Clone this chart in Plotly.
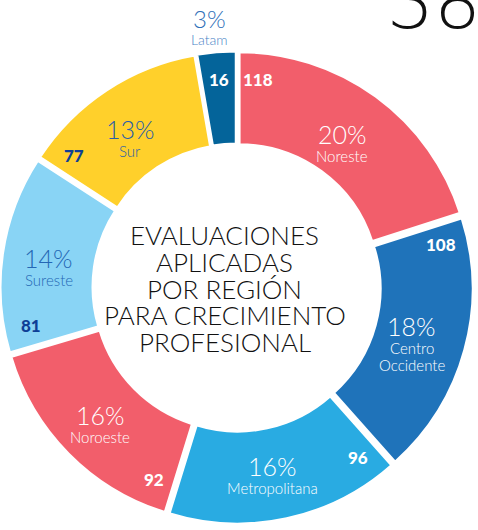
import math
import plotly.graph_objects as go

regions = ["Noreste", "Centro Occidente", "Metropolitana", "Noroeste", "Sureste", "Sur", "Latam"]
name_lines = [["Noreste"], ["Centro", "Occidente"], ["Metropolitana"], ["Noroeste"], ["Sureste"], ["Sur"], ["Latam"]]
counts = [118, 108, 96, 92, 81, 77, 16]
pct_labels = ["20%", "18%", "16%", "16%", "14%", "13%", "3%"]
colors = ["#F25E6B", "#1F73BA", "#29ABE2", "#F25E6B", "#89D4F5", "#FFD02B", "#04649A"]
pct_colors = ["#FFFFFF", "#FFFFFF", "#FFFFFF", "#FFFFFF", "#2467B4", "#2A5EA8", "#2F6FB8"]
name_colors = ["#FFFFFF", "#FFFFFF", "#FFFFFF", "#FFFFFF", "#2467B4", "#2A5EA8", "#4A84C6"]
num_colors = ["#FFFFFF", "#FFFFFF", "#FFFFFF", "#FFFFFF", "#0E3F96", "#0E3F96", "#FFFFFF"]
center_title = ["EVALUACIONES", "APLICADAS", "POR REGIÓN", "PARA CRECIMIENTO", "PROFESIONAL"]
page_number = "38"

W, H = 478, 530
PULL = 0.018
dom_x = [0.0, 0.99]
dom_y = [0.01, 0.905]
cx = (dom_x[0] + dom_x[1]) / 2 * W
cy_top = H - (dom_y[0] + dom_y[1]) / 2 * H  # pixel from top
R = min((dom_x[1] - dom_x[0]) * W, (dom_y[1] - dom_y[0]) * H) / 2 / (1 + PULL)

fig = go.Figure(go.Pie(
    labels=regions, values=counts, sort=False, direction="clockwise", rotation=0,
    hole=0.6, pull=PULL, textinfo="none", hoverinfo="label+value+percent",
    marker=dict(colors=colors, line=dict(color="white", width=3)),
    domain=dict(x=dom_x, y=dom_y), showlegend=False,
))

LIGHT = "Lato"
ann = []
lcx, lcy = cx - 4, cy_top + 7  # label ring centre (hole centre sits slightly left/low)


def to_paper(r, theta_deg, ccx, ccy):
    t = math.radians(theta_deg)
    px = ccx + r * math.sin(t)
    py = ccy - r * math.cos(t)
    return px / W, 1 - py / H


def add_text(x, y, text, size, color, weight, yshift=0, family=LIGHT):
    ann.append(dict(x=x, y=y, xref="paper", yref="paper", showarrow=False, text=text,
                    xanchor="center", yanchor="middle", yshift=yshift,
                    font=dict(family=family, size=size, color=color, weight=weight)))


total = sum(counts)
cum = 0
for i, v in enumerate(counts):
    span = v / total * 360
    start = cum / total * 360
    mid = start + span / 2
    cum += v
    if regions[i] == "Latam":
        x, y = to_paper(R * 1.15, mid, lcx, lcy)
        add_text(x, y, pct_labels[i], 24, pct_colors[i], 300, yshift=10)
        add_text(x, y, name_lines[i][0], 14, name_colors[i], 300, yshift=-11)
        nang = mid
    else:
        x, y = to_paper(R * 0.80, mid, lcx, lcy)
        nl = len(name_lines[i])
        base = 10 + 8 * (nl - 1)
        add_text(x, y, pct_labels[i], 25, pct_colors[i], 300, yshift=base)
        for k, nm in enumerate(name_lines[i]):
            add_text(x, y, nm, 15, name_colors[i], 300, yshift=base - 22 - 17 * k)
        nang = start + 6
    x, y = to_paper(R * 0.90, nang, cx, cy_top)
    add_text(x, y, str(v), 17, num_colors[i], 900)

line_gap = 26.8
for k, line in enumerate(center_title):
    add_text((cx - 12) / W, 1 - cy_top / H, line, 26, "#111111", 300,
             yshift=-(k - 2) * line_gap - 1)

ann.append(dict(x=1.0, y=1 - 47 / H, xref="paper", yref="paper", xanchor="right", yanchor="bottom",
                xshift=5, text=page_number, showarrow=False,
                font=dict(family="DejaVu Sans", size=74, color="#111111", weight=200)))

fig.update_layout(width=W, height=H, margin=dict(l=0, r=0, t=0, b=0),
                  paper_bgcolor="white", plot_bgcolor="white", annotations=ann)
fig.write_html("out.html", config={"displayModeBar": False},
               post_script="document.body.style.margin='0';document.body.style.overflow='hidden';")
